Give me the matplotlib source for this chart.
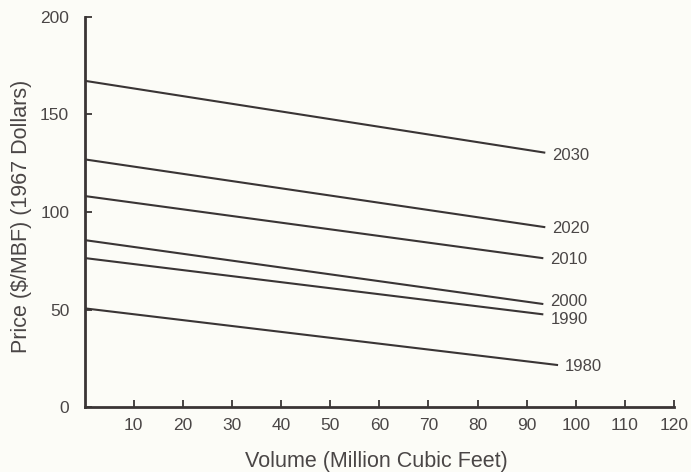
import matplotlib.pyplot as plt

# price-volume lines per projection year
years = ['1980', '1990', '2000', '2010', '2020', '2030']
start_price = [50.6, 76.4, 85.6, 108.2, 127.0, 167.3]
end_price = [21.5, 47.5, 52.8, 76.3, 92.2, 130.4]
end_volume = [96.4, 93.4, 93.4, 93.4, 93.8, 93.8]

x_ticks = [10, 20, 30, 40, 50, 60, 70, 80, 90, 100, 110, 120]
y_ticks = [0, 50, 100, 150, 200]

ink = '#3a3535'
txt = '#4a4646'
bg = '#fcfcf7'

plt.rcParams['font.family'] = ['Liberation Sans', 'DejaVu Sans']

fig = plt.figure(figsize=(6.91, 4.72), dpi=100, facecolor=bg)
ax = fig.add_axes([0.1223, 0.1377, 0.8531, 0.8263], facecolor=bg)

# small vertical nudges (points) so the labels don't collide
label_dy = {'1980': -1, '1990': -4, '2000': 2, '2010': -1, '2020': -1, '2030': -2}

for yr, y0, y1, x1 in zip(years, start_price, end_price, end_volume):
    ax.plot([0, x1], [y0, y1], color=ink, lw=1.5, solid_capstyle='butt')
    ax.annotate(yr, (x1, y1), xytext=(5, label_dy[yr]), textcoords='offset points',
                ha='left', va='center', fontsize=12, color=txt)

ax.set_xlim(0, 120)
ax.set_ylim(0, 200)
ax.set_xticks(x_ticks)
ax.set_yticks(y_ticks)
ax.tick_params(direction='in', length=5, width=1.3, colors=ink, labelcolor=txt,
               labelsize=12.5)
ax.tick_params(axis='x', pad=8)
ax.tick_params(axis='y', pad=11)

for s in ['top', 'right']:
    ax.spines[s].set_visible(False)
for s in ['left', 'bottom']:
    ax.spines[s].set_color(ink)
    ax.spines[s].set_linewidth(2)

ax.set_xlabel('Volume (Million Cubic Feet)', fontsize=15.5, color=txt)
ax.xaxis.set_label_coords(0.495, -0.112)
ax.set_ylabel('Price ($/MBF) (1967 Dollars)', fontsize=15.5, color=txt)
ax.yaxis.set_label_coords(-0.089, 0.49)

fig.savefig('out.png', dpi=100, facecolor=bg)
